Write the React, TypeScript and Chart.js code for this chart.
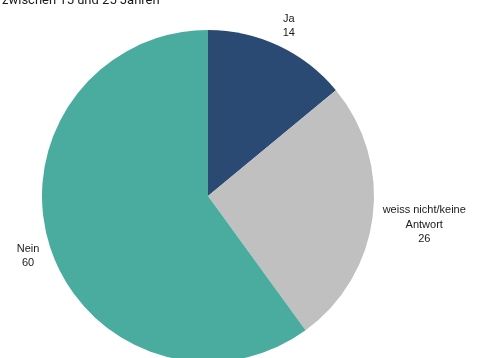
import React, { useEffect, useRef } from "react";
import { Chart, registerables } from "chart.js";

Chart.register(...registerables);

const categories = ["Ja", "weiss nicht/keine Antwort", "Nein"];
const labelLines = [["Ja"], ["weiss nicht/keine", "Antwort"], ["Nein"]];
const values = [14, 26, 60];
const colors = ["#2a4a73", "#c0c0c0", "#4aab9f"];
const titleText = "zwischen 15 und 25 Jahren";

const W = 479;
const H = 372;

const labelPlugin = {
  id: "outsideLabels",
  afterDatasetsDraw(chart: any) {
    const ctx = chart.ctx;
    const meta = chart.getDatasetMeta(0);
    ctx.save();
    ctx.font = "11px 'Liberation Sans', Arial, sans-serif";
    ctx.fillStyle = "#1a1a1a";
    ctx.textAlign = "center";
    ctx.textBaseline = "middle";
    const lh = 14.5;
    meta.data.forEach((arc: any, i: number) => {
      const lines = [...labelLines[i], String(values[i])];
      const widths = lines.map((l) => ctx.measureText(l).width);
      const hw = Math.max(...widths) / 2;
      const hh = (lines.length * lh) / 2;
      const mid = (arc.startAngle + arc.endAngle) / 2;
      const c = Math.cos(mid);
      const s = Math.sin(mid);
      const d = arc.outerRadius + 8 + hw * Math.abs(c) + hh * Math.abs(s);
      const cx = arc.x + d * c;
      const cy = arc.y + d * s + 1.5;
      lines.forEach((l, k) => {
        ctx.fillText(l, cx, cy - hh + lh / 2 + k * lh);
      });
    });
    ctx.restore();
  },
  afterDraw(chart: any) {
    const ctx = chart.ctx;
    ctx.save();
    ctx.font = "13px Roboto, 'Liberation Sans', Arial, sans-serif";
    ctx.fillStyle = "#1a1a1a";
    ctx.textAlign = "left";
    ctx.textBaseline = "alphabetic";
    ctx.fillText(titleText, 2, 4);
    ctx.restore();
  },
};

export default function App() {
  const ref = useRef<HTMLCanvasElement>(null);
  useEffect(() => {
    if (!ref.current) return;
    const chart = new Chart(ref.current, {
      type: "pie",
      data: {
        labels: categories,
        datasets: [
          {
            data: values,
            backgroundColor: colors,
            borderWidth: 0,
          },
        ],
      },
      options: {
        animation: false,
        responsive: false,
        maintainAspectRatio: false,
        layout: { padding: { left: 42, right: 105, top: 30, bottom: H - 362 } },
        plugins: {
          legend: { display: false },
          tooltip: { enabled: false },
          title: { display: false },
        },
      },
      plugins: [labelPlugin],
    });
    return () => chart.destroy();
  }, []);
  return (
    <div style={{ position: "fixed", left: 0, top: 0, width: W, height: H, background: "#fff" }}>
      <canvas ref={ref} width={W} height={H} style={{ width: W, height: H, display: "block" }} />
    </div>
  );
}
